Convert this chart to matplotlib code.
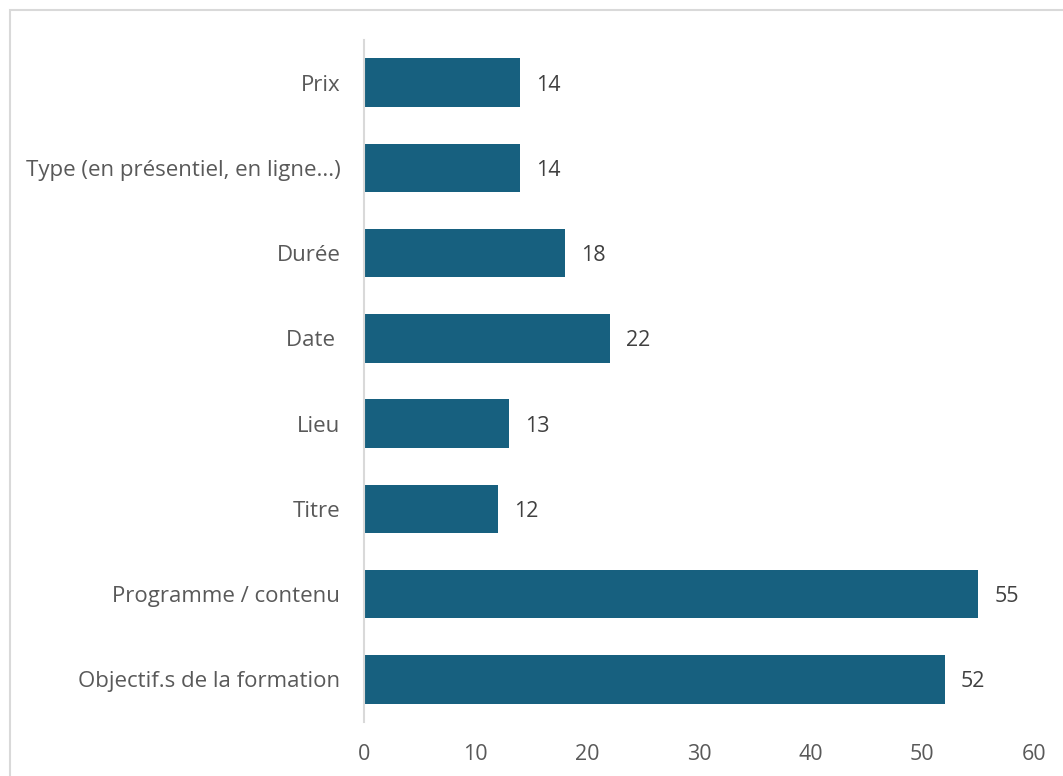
import matplotlib.pyplot as plt
from matplotlib.patches import Rectangle

criteres = ['Prix', 'Type (en présentiel, en ligne...)', 'Durée', 'Date ',
            'Lieu', 'Titre', 'Programme / contenu', 'Objectif.s de la formation']
reponses = [14, 14, 18, 22, 13, 12, 55, 52]
xticks = [0, 10, 20, 30, 40, 50, 60]

plt.rcParams['font.family'] = ['Open Sans', 'DejaVu Sans']

fig = plt.figure(figsize=(10.63, 7.76), dpi=100)
ax = fig.add_axes([0.3424, 0.0696, 0.6303, 0.8789])

pos = list(range(len(criteres)))[::-1]
bars = ax.barh(pos, reponses, height=0.57, color='#17607F')
for b, v in zip(bars, reponses):
    ax.text(b.get_width() + 1.45, b.get_y() + b.get_height() / 2 - 0.03, str(v),
            va='center', ha='left', fontsize=15.5, color='#404040')

ax.set_xlim(0, 60)
ax.set_ylim(-0.5, len(criteres) - 0.5)
ax.set_yticks(pos)
ax.set_yticklabels(criteres, fontsize=16, color='#595959')
ax.set_xticks(xticks)
ax.set_xticklabels([str(t) for t in xticks], fontsize=15.5, color='#595959')
ax.tick_params(axis='both', length=0)
ax.tick_params(axis='y', pad=17)
ax.tick_params(axis='x', pad=16)

for s in ['top', 'right', 'bottom']:
    ax.spines[s].set_visible(False)
ax.spines['left'].set_color('#D9D9D9')
ax.spines['left'].set_linewidth(1.5)

# cadre gris autour du graphique
fig.patches.append(Rectangle((10 / 1063, -0.05), 1.1, 1 - 10 / 776 + 0.05,
                             transform=fig.transFigure, fill=False,
                             edgecolor='#D9D9D9', linewidth=1.5))

plt.savefig('out.png', dpi=100)
